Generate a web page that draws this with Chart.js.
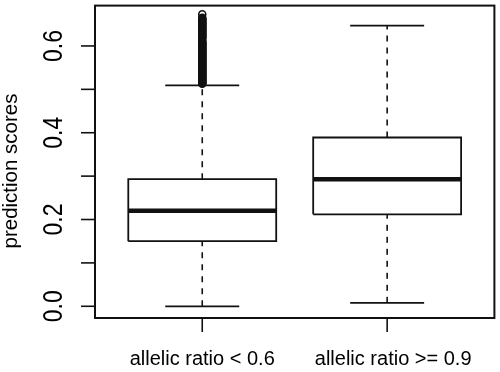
<!DOCTYPE html>
<html>
<head>
<meta charset="utf-8">
<script src="https://cdn.jsdelivr.net/npm/chart.js@4/dist/chart.umd.min.js"></script>
<style>
  html, body { margin: 0; padding: 0; background: #fff; }
  canvas { display: block; }
</style>
</head>
<body>
<canvas id="myChart" width="500" height="372"></canvas>
<script>
// box plot values
const groupLabels = ['allelic ratio < 0.6', 'allelic ratio >= 0.9'];
const groupPos = [1, 2];
const lowerWhisker = [0.0, 0.008];
const q1 = [0.150, 0.212];
const median = [0.220, 0.293];
const q3 = [0.293, 0.389];
const upperWhisker = [0.509, 0.647];

// outliers above the whisker of the first group (dense column)
const outliers1 = [0.513, 0.514, 0.516, 0.517, 0.519, 0.521, 0.522, 0.524, 0.526, 0.527,
  0.529, 0.531, 0.533, 0.534, 0.536, 0.538, 0.540, 0.541, 0.543, 0.545,
  0.547, 0.548, 0.550, 0.552, 0.554, 0.556, 0.557, 0.559, 0.561, 0.563,
  0.565, 0.566, 0.568, 0.570, 0.572, 0.574, 0.575, 0.577, 0.579, 0.581,
  0.583, 0.584, 0.586, 0.588, 0.590, 0.592, 0.593, 0.595, 0.597, 0.599,
  0.601, 0.603, 0.604, 0.606, 0.608, 0.610, 0.612, 0.617, 0.619, 0.621,
  0.623, 0.625, 0.627, 0.629, 0.631, 0.633, 0.635, 0.637, 0.639, 0.641,
  0.643, 0.645, 0.647, 0.649, 0.651, 0.653, 0.655, 0.657, 0.659, 0.661,
  0.663, 0.665, 0.673];

const yTicks = [0, 0.1, 0.2, 0.3, 0.4, 0.5, 0.6];
const yTickLabels = ['0.0', '', '0.2', '', '0.4', '', '0.6'];
const yTitle = 'prediction scores';

const boxHalf = 0.4;
const capHalf = 0.2;
const ink = '#111';

var datasets = [];
groupPos.forEach(function (x, i) {
  // box
  datasets.push({
    data: [
      {x: x - boxHalf, y: q1[i]}, {x: x + boxHalf, y: q1[i]},
      {x: x + boxHalf, y: q3[i]}, {x: x - boxHalf, y: q3[i]},
      {x: x - boxHalf, y: q1[i]}
    ],
    showLine: true, borderColor: ink, borderWidth: 1.8, pointRadius: 0,
    borderJoinStyle: 'miter', fill: false
  });
  // median
  datasets.push({
    data: [{x: x - boxHalf, y: median[i]}, {x: x + boxHalf, y: median[i]}],
    showLine: true, borderColor: ink, borderWidth: 4.5, pointRadius: 0,
    borderCapStyle: 'butt'
  });
  // whiskers
  datasets.push({
    data: [{x: x, y: lowerWhisker[i]}, {x: x, y: q1[i]}],
    showLine: true, borderColor: ink, borderWidth: 1.6, pointRadius: 0,
    borderDash: [6, 6]
  });
  datasets.push({
    data: [{x: x, y: q3[i]}, {x: x, y: upperWhisker[i]}],
    showLine: true, borderColor: ink, borderWidth: 1.6, pointRadius: 0,
    borderDash: [6, 6]
  });
  // caps
  datasets.push({
    data: [{x: x - capHalf, y: lowerWhisker[i]}, {x: x + capHalf, y: lowerWhisker[i]}],
    showLine: true, borderColor: ink, borderWidth: 1.8, pointRadius: 0
  });
  datasets.push({
    data: [{x: x - capHalf, y: upperWhisker[i]}, {x: x + capHalf, y: upperWhisker[i]}],
    showLine: true, borderColor: ink, borderWidth: 1.8, pointRadius: 0
  });
});
datasets.push({
  data: outliers1.map(function (v) { return {x: groupPos[0], y: v}; }),
  showLine: false, pointStyle: 'circle', pointRadius: 3.5,
  pointBorderWidth: 1.6, pointBorderColor: ink,
  pointBackgroundColor: 'rgba(0,0,0,0)'
});

// frame, ticks and labels drawn like R's base graphics
const rAxes = {
  id: 'rAxes',
  afterDatasetsDraw(chart) {
    var c = chart.ctx, a = chart.chartArea;
    var xs = chart.scales.x, ys = chart.scales.y;
    c.save();
    c.strokeStyle = ink;
    c.fillStyle = '#000';
    c.lineWidth = 2;
    c.strokeRect(a.left, a.top, a.right - a.left, a.bottom - a.top);

    c.lineWidth = 1.6;
    yTicks.forEach(function (v, i) {
      var py = ys.getPixelForValue(v);
      c.beginPath(); c.moveTo(a.left - 14, py); c.lineTo(a.left, py); c.stroke();
      if (yTickLabels[i]) {
        c.save();
        c.translate(62, py);
        c.rotate(-Math.PI / 2);
        c.scale(1, 1.2);
        c.font = '23px "Liberation Sans", Arial, sans-serif';
        c.textAlign = 'center';
        c.textBaseline = 'alphabetic';
        c.fillText(yTickLabels[i], 0, 0);
        c.restore();
      }
    });

    groupPos.forEach(function (x, i) {
      var px = xs.getPixelForValue(x);
      c.beginPath(); c.moveTo(px, a.bottom); c.lineTo(px, a.bottom + 14); c.stroke();
      c.font = '20px "Liberation Sans", Arial, sans-serif';
      c.textAlign = 'center';
      c.textBaseline = 'alphabetic';
      c.fillText(groupLabels[i], px + (i === 1 ? 6 : 0), 365);
    });

    c.save();
    c.translate(17, 171);
    c.rotate(-Math.PI / 2);
    c.font = '20.5px "Liberation Sans", Arial, sans-serif';
    c.textAlign = 'center';
    c.textBaseline = 'alphabetic';
    c.fillText(yTitle, 0, 0);
    c.restore();
    c.restore();
  }
};

var ctx = document.getElementById('myChart').getContext('2d');
var myChart = new Chart(ctx, {
  type: 'scatter',
  data: { datasets: datasets },
  options: {
    responsive: false,
    animation: false,
    layout: { padding: { left: 95, right: 2, top: 1, bottom: 54 } },
    plugins: { legend: { display: false }, tooltip: { enabled: false } },
    scales: {
      x: { type: 'linear', min: 0.42, max: 2.58, display: false },
      y: { type: 'linear', min: -0.027, max: 0.693, display: false }
    }
  },
  plugins: [rAxes]
});
</script>
</body>
</html>
